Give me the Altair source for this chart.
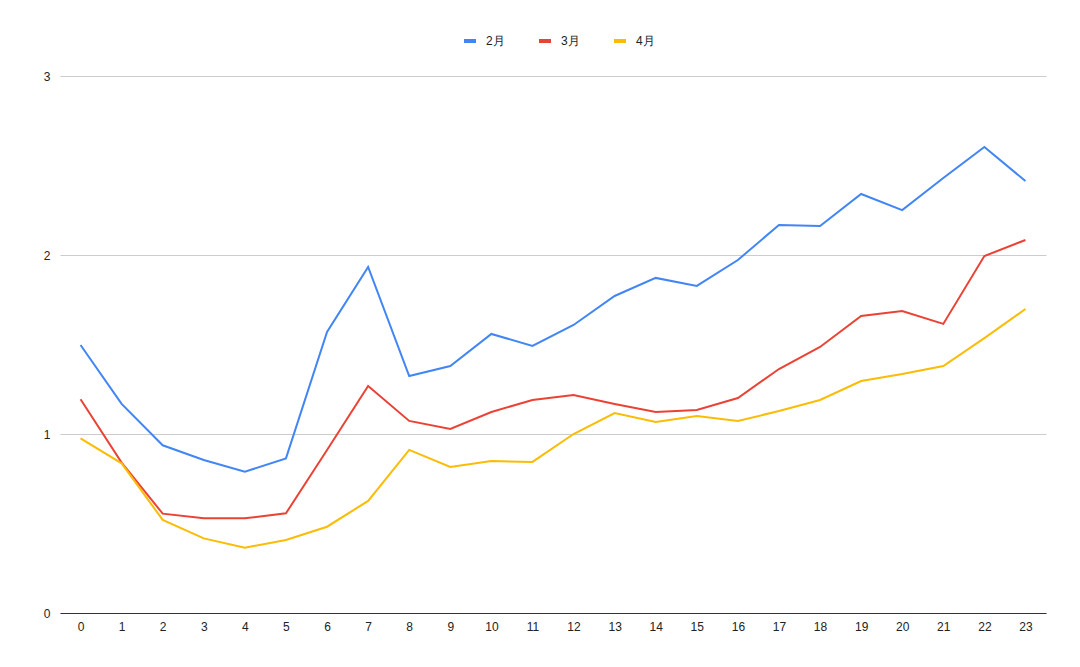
import altair as alt
import pandas as pd

hours = list(range(24))
feb = [1.497, 1.168, 0.937, 0.855, 0.789, 0.864, 1.570, 1.933, 1.324, 1.380, 1.559, 1.492,
       1.609, 1.771, 1.872, 1.827, 1.972, 2.168, 2.162, 2.341, 2.251, 2.430, 2.603, 2.413]
mar = [1.194, 0.840, 0.555, 0.529, 0.529, 0.557, 0.911, 1.268, 1.073, 1.028, 1.123, 1.190,
       1.218, 1.168, 1.123, 1.134, 1.201, 1.363, 1.486, 1.659, 1.687, 1.615, 1.994, 2.084]
apr = [0.976, 0.836, 0.520, 0.417, 0.365, 0.408, 0.482, 0.626, 0.911, 0.816, 0.849, 0.844,
       1.000, 1.117, 1.067, 1.101, 1.073, 1.128, 1.190, 1.296, 1.335, 1.380, 1.536, 1.698]
series_names = ["2月", "3月", "4月"]
colors = ["#4285F4", "#EA4335", "#FBBC04"]

rows = []
for name, vals in zip(series_names, [feb, mar, apr]):
    for h, v in zip(hours, vals):
        rows.append({"hour": h, "value": v, "series": name})
df = pd.DataFrame(rows)

font = "Liberation Sans"

chart = alt.Chart(df).mark_line(strokeWidth=2).encode(
    x=alt.X("hour:O", sort=hours,
            scale=alt.Scale(type="point", padding=0.5),
            axis=alt.Axis(title=None, labelAngle=0, ticks=False, domain=True,
                          domainColor="#333333", domainWidth=1, grid=False,
                          labelPadding=8, labelFontSize=12, labelColor="#222222",
                          labelFont=font)),
    y=alt.Y("value:Q", scale=alt.Scale(domain=[0, 3], nice=False),
            axis=alt.Axis(title=None, values=[0, 1, 2, 3], format="d", ticks=False,
                          domain=False, grid=True, gridColor="#cccccc",
                          labelPadding=10, labelFontSize=12, labelColor="#222222",
                          labelFont=font)),
    color=alt.Color("series:N", sort=series_names,
                    scale=alt.Scale(domain=series_names, range=colors),
                    legend=alt.Legend(title=None, orient="none", direction="horizontal",
                                      legendX=402, legendY=-43,
                                      symbolType="stroke", symbolSize=144,
                                      symbolStrokeWidth=4, columnPadding=26,
                                      labelFontSize=12, labelColor="#222222",
                                      labelFont=font, labelOffset=8)),
).properties(
    width=986, height=537,
    autosize=alt.AutoSizeParams(type="none"),
    padding={"left": 52, "top": 68, "right": 26, "bottom": 46},
).configure_view(stroke=None)

chart.save("out.html", embed_options={"renderer": "svg", "actions": False})
